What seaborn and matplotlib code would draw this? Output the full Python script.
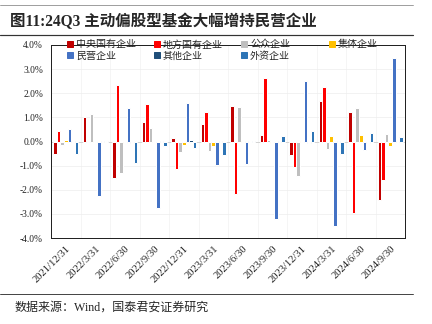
import matplotlib
matplotlib.use('Agg')
import numpy as np
import pandas as pd
import seaborn as sns
import matplotlib.pyplot as plt
from matplotlib.lines import Line2D

dates = ["2021/12/31", "2022/3/31", "2022/6/30", "2022/9/30", "2022/12/31", "2023/3/31",
         "2023/6/30", "2023/9/30", "2023/12/31", "2024/3/31", "2024/6/30", "2024/9/30"]
series = ["中央国有企业", "地方国有企业", "公众企业", "集体企业", "民营企业", "其他企业", "外资企业"]

central = [-0.50, 1.03, -1.50, 0.80, 0.15, 0.73, 1.49, 0.25, -0.54, 1.68, 1.21, -2.43]
local = [0.43, 0.02, 2.36, 1.57, -1.13, 1.24, -2.17, 2.63, -1.06, 2.25, -2.95, -1.60]
public = [-0.14, 1.13, -1.30, 0.54, -0.44, -0.41, 1.41, 0.07, -1.45, -0.32, 1.39, 0.33]
collective = [0.07, 0.01, -0.08, -0.02, -0.15, -0.17, 0.01, -0.05, 0.01, 0.23, 0.25, -0.19]
private = [0.50, -2.26, 1.37, -2.76, 1.61, -0.99, -0.92, -3.21, 2.52, -3.52, -0.37, 3.48]
other = [0.01, 0.01, -0.05, 0.01, 0.07, 0.01, 0.01, 0.01, -0.06, 0.01, -0.06, 0.02]
foreign = [-0.50, 0.01, -0.88, -0.20, -0.28, -0.55, 0.04, 0.22, 0.44, -0.50, 0.37, 0.19]

colors = ["#C00000", "#FF0000", "#BFBFBF", "#FFC000", "#4472C4", "#1F4E79", "#2E75B6"]

values = [central, local, public, collective, private, other, foreign]
rows = []
for name, vals in zip(series, values):
    for d, v in zip(dates, vals):
        rows.append({"date": d, "type": name, "value": v})
df = pd.DataFrame(rows)

sns.set_theme(style="white")
plt.rcParams['font.family'] = ['Liberation Serif', 'Noto Sans CJK SC', 'DejaVu Sans']
plt.rcParams['axes.unicode_minus'] = False

fig = plt.figure(figsize=(6, 4.5), dpi=72)
ax = fig.add_axes([51/432, 1-238/324, (405-51)/432, (238-45)/324])

sns.barplot(data=df, x="date", y="value", hue="type", order=dates, hue_order=series,
            palette=colors, saturation=1, width=0.84, ax=ax, legend=False, zorder=3)

ax.set_xlim(-0.5, len(dates)-0.5)
ax.set_ylim(-4, 4)
ax.set_yticks(np.arange(-4, 4.01, 1))
ax.set_yticklabels([f"{v:.1f}%" for v in np.arange(-4, 4.01, 1)], fontsize=9.5,
                   family=['Liberation Serif'])
ax.set_xticks(range(len(dates)))
ax.set_xticklabels(dates, rotation=45, ha='right', rotation_mode='anchor', fontsize=10.5,
                   family=['Liberation Serif'])
ax.set_xticks(np.arange(0.5, len(dates)-0.5, 1), minor=True)
ax.tick_params(axis='y', which='both', length=0, pad=8, colors='#222222')
ax.tick_params(axis='x', which='both', length=0, pad=6, colors='#222222')
ax.set_xlabel("")
ax.set_ylabel("")
ax.grid(axis='y', which='major', color='#EDEDED', lw=0.7, zorder=0)
ax.grid(axis='x', which='minor', color='#F2F2F2', lw=0.7, zorder=0)
ax.axhline(0, color='#D0D0D0', lw=0.9, zorder=2)
for s in ax.spines.values():
    s.set_color('#222222')
    s.set_linewidth(1.0)

# legend columns
col_x = [66, 153, 240, 328]
cols = [[0, 4], [1, 5], [2, 6], [3]]
for cx, idxs in zip(col_x, cols):
    handles = [Line2D([], [], marker='s', linestyle='none', markersize=5.5,
                      markerfacecolor=colors[i], markeredgecolor=colors[i]) for i in idxs]
    fig.legend(handles, [series[i] for i in idxs], loc='upper left',
               bbox_to_anchor=(cx/432, 1-39.5/324), frameon=False,
               handlelength=0.7, handletextpad=0.3, labelspacing=0.12,
               borderpad=0, borderaxespad=0, prop={'family': ['Noto Sans CJK SC'], 'size': 10})

# title and rules
fig.text(10/432, 1-22/324, "图11:24Q3 主动偏股型基金大幅增持民营企业", fontsize=15.5,
         fontweight='bold', va='center', ha='left',
         family=['Liberation Serif', 'Noto Sans CJK SC'])
fig.add_artist(Line2D([0, 413/432], [1-5/324, 1-5/324], color='#888888', lw=0.8))
fig.add_artist(Line2D([0, 413/432], [1-35/324, 1-35/324], color='#333333', lw=1.2))
fig.add_artist(Line2D([0, 413/432], [1-294/324, 1-294/324], color='#333333', lw=0.9))
fig.text(15/432, 1-308/324, "数据来源：Wind，国泰君安证券研究", fontsize=12, va='center', ha='left',
         family=['Liberation Serif', 'Noto Sans CJK SC'])

fig.savefig("out.png", dpi=72)
